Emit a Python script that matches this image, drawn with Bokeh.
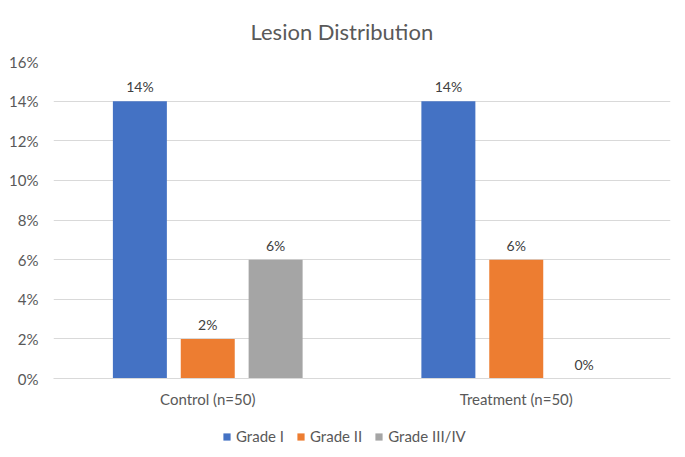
from bokeh.plotting import figure
from bokeh.layouts import column
from bokeh.models import ColumnDataSource, FactorRange, NumeralTickFormatter, Legend, LegendItem, FixedTicker
from bokeh.transform import dodge
from bokeh.core.properties import value
from bokeh.embed import file_html
from bokeh.resources import INLINE

categories = ["Control (n=50)", "Treatment (n=50)"]
series = ["Grade I", "Grade II", "Grade III/IV"]
grade_1 = [0.14, 0.14]
grade_2 = [0.02, 0.06]
grade_3_4 = [0.06, 0.00]
y_ticks = [0.0, 0.02, 0.04, 0.06, 0.08, 0.10, 0.12, 0.14, 0.16]
colors = ["#4472C4", "#ED7D31", "#A5A5A5"]

FONT = "Lato"
TXT = "#595959"

src = ColumnDataSource(dict(
    cat=categories,
    g1=grade_1, g2=grade_2, g3=grade_3_4,
    l1=[f"{v:.0%}" for v in grade_1],
    l2=[f"{v:.0%}" for v in grade_2],
    l3=[f"{v:.0%}" for v in grade_3_4],
))

p = figure(x_range=FactorRange(*categories, range_padding=0), y_range=(0, 0.16),
           width=685, height=410, output_backend="svg", toolbar_location=None,
           min_border_left=53, min_border_right=15, min_border_top=61, min_border_bottom=31)
p.background_fill_color = "white"
p.border_fill_color = "white"
p.outline_line_color = None

p.title.text = "Lesion Distribution"
p.title.align = "left"
p.title.offset = 197
p.title.vertical_align = "middle"
p.title.standoff = 31
p.title.text_font = FONT
p.title.text_font_size = "22px"
p.title.text_font_style = "normal"
p.title.text_color = TXT

offsets = [-0.22, 0.0, 0.22]
fields = ["g1", "g2", "g3"]
lfields = ["l1", "l2", "l3"]
for f, lf, off, c in zip(fields, lfields, offsets, colors):
    p.vbar(x=dodge("cat", off, range=p.x_range), top=f, width=0.175, source=src,
           fill_color=c, line_color=None)
    p.text(x=dodge("cat", off, range=p.x_range), y=f, text=lf, source=src,
           text_align="center", text_baseline="bottom", y_offset=-6,
           text_font=value(FONT), text_font_size="14px", text_color="#404040")

p.yaxis.ticker = FixedTicker(ticks=y_ticks)
p.yaxis.formatter = NumeralTickFormatter(format="0%")
p.yaxis.axis_line_color = None
p.yaxis.major_tick_line_color = None
p.yaxis.minor_tick_line_color = None
p.yaxis.major_tick_out = 0
p.yaxis.major_tick_in = 0
p.yaxis.major_label_text_font = FONT
p.yaxis.major_label_text_font_size = "15px"
p.yaxis.major_label_text_color = TXT
p.yaxis.major_label_standoff = 15

p.xaxis.axis_line_color = "#d9d9d9"
p.xaxis.major_tick_line_color = None
p.xaxis.minor_tick_line_color = None
p.xaxis.major_tick_out = 0
p.xaxis.major_tick_in = 0
p.xaxis.major_label_text_font = FONT
p.xaxis.major_label_text_font_size = "15px"
p.xaxis.major_label_text_color = TXT
p.xaxis.major_label_standoff = 11

p.xgrid.grid_line_color = None
p.ygrid.grid_line_color = "#d9d9d9"
p.ygrid.ticker = FixedTicker(ticks=y_ticks)

# legend strip below the chart (zero-height proxy bars only feed the legend)
lg = figure(width=685, height=47, output_backend="svg", toolbar_location=None,
            x_range=(0, 1), y_range=(0, 1), min_border=0)
lg.axis.visible = False
lg.grid.visible = False
lg.outline_line_color = None
lg.background_fill_color = "white"
lg.border_fill_color = "white"
proxy = ColumnDataSource(dict(x=[0.5], top=[0.0], bottom=[0.0]))
items = []
for name, c in zip(series, colors):
    r = lg.vbar(x="x", top="top", bottom="bottom", width=0.01, source=proxy,
                fill_color=c, line_color=None)
    items.append(LegendItem(label=name, renderers=[r]))
legend = Legend(items=items, orientation="horizontal", location=(169, 12),
                label_text_font=FONT, label_text_font_size="15px", label_text_color=TXT,
                glyph_width=9, glyph_height=9, label_standoff=5, spacing=12,
                padding=2, margin=0, border_line_color=None, background_fill_alpha=0)
lg.add_layout(legend, "center")

layout = column(p, lg, spacing=0)
open("out.html", "w").write(file_html(layout, INLINE))
